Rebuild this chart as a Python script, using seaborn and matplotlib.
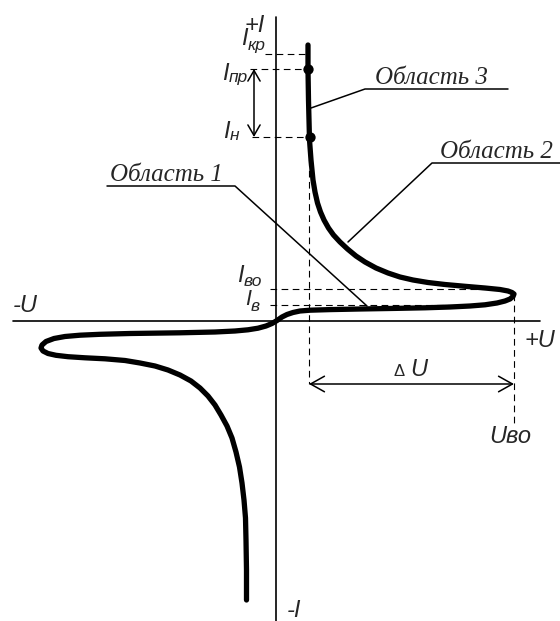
import numpy as np
import pandas as pd
import matplotlib
matplotlib.use("Agg")
import matplotlib.pyplot as plt
from matplotlib.patches import FancyArrowPatch
import seaborn as sns

# Thyristor I-V characteristic (schematic units: U to the right, I upward)
curve_u = [32, 32, 32.5, 33, 33.5, 35, 37, 39, 41.5, 44.5, 48, 52.5, 57.5, 64, 71.5,
           80, 89, 100, 112, 124, 137, 152, 169, 189, 209, 224, 232, 236, 238,
           237, 234, 229, 221, 209, 194, 174, 149, 119, 84, 54, 34, 24, 17, 11, 6,
           1, -4, -10, -18, -28, -41, -61, -96, -146, -176, -196, -211, -222, -230,
           -234, -235, -233, -228, -220, -208, -191, -171, -151, -136, -121, -108,
           -96, -85, -76, -68, -61, -55, -49, -44, -40, -36.5, -34, -32, -30.5,
           -30, -29.5, -29.5]
curve_i = [276, 251, 221, 201, 181, 161, 141, 129, 118, 109, 101, 93, 86, 79, 72,
           65, 59, 53, 48, 44, 41, 38.5, 36.5, 34.7, 33, 31.5, 30, 28.5, 27,
           24.5, 22, 20, 18, 16.2, 15, 14, 13.2, 12.6, 12, 11.4, 10.8, 10, 8.5, 6.5, 4,
           0.5, -2.5, -5, -7.2, -8.8, -10, -11, -11.8, -12.5, -13.3, -14.2, -15.5, -17.5, -20.5,
           -24, -27, -30, -32.5, -34.3, -35.7, -36.8, -37.8, -39.5, -42, -45, -49,
           -54, -60, -67, -75, -84, -94, -105, -117, -131, -146, -162, -179, -197,
           -219, -249, -279]

# Characteristic levels
I_kr = 267      # critical current
I_pr = 252      # maximum forward current
I_n = 184       # holding current
I_vo = 32       # switching current
I_v = 16        # gate-controlled level
U_vo = 238      # switching voltage
U_on = 33       # on-state voltage at the holding point

dot_u = [32, 33.5]
dot_i = [I_pr, I_n]

region_names = ["Область 1", "Область 2", "Область 3"]

sns.set_style("white")
plt.rcParams["font.family"] = ["Liberation Sans", "DejaVu Sans"]

fig = plt.figure(figsize=(5.6, 6.21), dpi=100)
ax = fig.add_axes([0, 0, 1, 1])
ax.set_xlim(-276, 284)
ax.set_ylim(-300, 321)
ax.axis("off")

# Coordinate axes
ax.plot([-263, 264], [0, 0], color="black", lw=1.2)
ax.plot([0, 0], [-300, 304], color="black", lw=1.2)

# Dashed reference lines
dash = dict(color="black", lw=0.8, ls=(0, (6, 4)))
ax.plot([-11, 32], [I_kr, I_kr], **dash)
ax.plot([-26, 32], [I_pr, I_pr], **dash)
ax.plot([-24, U_on], [I_n, I_n], **dash)
ax.plot([-6, 222], [I_vo, I_vo], **dash)
ax.plot([-6, 195], [I_v, I_v], **dash)
ax.plot([U_on, U_on], [I_n, -63], **dash)
ax.plot([U_vo, U_vo], [27, -102], **dash)

# Characteristic curve
df = pd.DataFrame({"U": curve_u, "I": curve_i})
sns.lineplot(data=df, x="U", y="I", sort=False, estimator=None, ax=ax,
             color="black", lw=3.8, solid_capstyle="round", solid_joinstyle="round")
sns.scatterplot(x=dot_u, y=dot_i, ax=ax, color="black", s=55, edgecolor="black",
                linewidth=0, zorder=5)

# Dimension arrows
ax.add_patch(FancyArrowPatch((U_on, -63), (U_vo, -63),
                             arrowstyle="<->,head_length=0.5,head_width=0.28",
                             mutation_scale=20, lw=1.1, color="black",
                             shrinkA=0, shrinkB=0))
ax.add_patch(FancyArrowPatch((-22, I_pr), (-22, I_n),
                             arrowstyle="<->,head_length=0.38,head_width=0.22",
                             mutation_scale=20, lw=1.1, color="black",
                             shrinkA=0, shrinkB=0))

# Leader lines for the regions
lead = dict(color="black", lw=1.1)
ax.plot([35, 89, 232], [213, 232, 232], **lead)
ax.plot([72, 156, 284], [79, 158, 158], **lead)
ax.plot([91, -41, -169], [15, 135, 135], **lead)

serif = dict(family="Liberation Serif", style="italic", fontsize=18,
             ha="left", va="baseline")
ax.text(-166, 140, region_names[0], **serif)
ax.text(164, 163, region_names[1], **serif)
ax.text(99, 237, region_names[2], **serif)

# Axis and level labels
big = dict(style="italic", fontsize=17, ha="left", va="baseline")
sub = dict(style="italic", fontsize=12.5, ha="left", va="baseline")
ax.text(-32, 289, "+I", **big)
ax.text(-35, 276, "I", **big)
ax.text(-28, 271, "кр", **sub)
ax.text(-54, 241, "I", **big)
ax.text(-47, 239, "пр", **sub)
ax.text(-53, 183, "I", **big)
ax.text(-46, 181, "н", **sub)
ax.text(-39, 39, "I", **big)
ax.text(-32, 35, "во", **sub)
ax.text(-31, 16, "I", fontsize=15.5, style="italic", ha="left", va="baseline")
ax.text(-25, 10, "в", **sub)
ax.text(-263, 9, "-U", **big)
ax.text(249, -26, "+U", **big)
ax.text(118, -55, "Δ", fontsize=12, ha="left", va="baseline")
ax.text(134, -55, "U", **big)
ax.text(213, -122, "Uво", **big)
ax.text(11, -296, "-I", **big)

fig.savefig("out.png", dpi=100)
